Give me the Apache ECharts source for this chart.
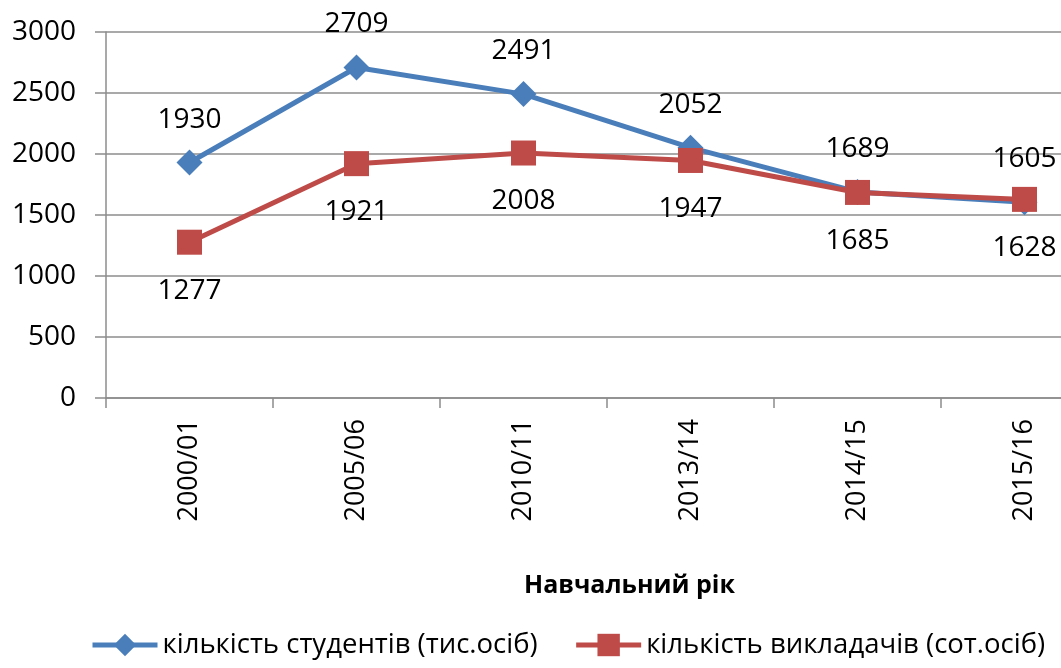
<!DOCTYPE html>
<html>
<head>
<meta charset="utf-8">
<script src="https://cdn.jsdelivr.net/npm/echarts@6/dist/echarts.min.js"></script>
<style>
  html, body { margin: 0; padding: 0; background: #fff; }
  #chart { width: 1061px; height: 668px; }
</style>
</head>
<body>
<div id="chart"></div>
<script>
const years = ["2000/01", "2005/06", "2010/11", "2013/14", "2014/15", "2015/16"];
const students = [1930, 2709, 2491, 2052, 1689, 1605];
const teachers = [1277, 1921, 2008, 1947, 1685, 1628];
const yTicks = { min: 0, max: 3000, step: 500 };

const font = "'Open Sans', 'Noto Sans', sans-serif";
const chart = echarts.init(document.getElementById("chart"));

chart.setOption({
  animation: false,
  title: {
    text: "Навчальний рік",
    left: 519,
    top: 568,
    textStyle: { fontFamily: font, fontSize: 25, fontWeight: "bold", color: "#000" }
  },
  legend: {
    bottom: 4,
    left: 85,
    itemWidth: 65,
    itemHeight: 28,
    itemGap: 36,
    lineStyle: { width: 5 },
    textStyle: { fontFamily: font, fontSize: 27.5, color: "#000" },
    data: ["кількість студентів (тис.осіб)", "кількість викладачів (сот.осіб)"]
  },
  grid: { left: 106, top: 32, width: 1002, height: 366, outerBoundsMode: "none", containLabel: false },
  xAxis: {
    type: "category",
    data: years,
    boundaryGap: true,
    axisLine: { lineStyle: { color: "#8c8c8c", width: 1.5 } },
    axisTick: { show: true, interval: 0, length: 10, lineStyle: { color: "#8c8c8c", width: 1.5 } },
    axisLabel: { rotate: 90, margin: 21, fontFamily: font, fontSize: 27, color: "#000", interval: 0 }
  },
  yAxis: {
    type: "value",
    min: yTicks.min,
    max: yTicks.max,
    interval: yTicks.step,
    axisLine: { show: true, lineStyle: { color: "#8c8c8c", width: 1.5 } },
    axisTick: { show: true, length: 11, lineStyle: { color: "#8c8c8c", width: 1.5 } },
    axisLabel: { margin: 30, fontFamily: font, fontSize: 28, color: "#000", formatter: (v) => String(v) },
    splitLine: { lineStyle: { color: "#8c8c8c", width: 1.5 } }
  },
  series: [
    {
      name: "кількість студентів (тис.осіб)",
      type: "line",
      data: students,
      symbol: "diamond",
      symbolSize: 26,
      itemStyle: { color: "#4a7ebb" },
      lineStyle: { color: "#4a7ebb", width: 5 },
      label: { show: true, position: "top", distance: 16, fontFamily: font, fontSize: 28, color: "#000" }
    },
    {
      name: "кількість викладачів (сот.осіб)",
      type: "line",
      data: teachers,
      symbol: "rect",
      symbolSize: 25,
      itemStyle: { color: "#be4b48" },
      lineStyle: { color: "#be4b48", width: 5 },
      label: { show: true, position: "bottom", distance: 22, fontFamily: font, fontSize: 28, color: "#000" }
    }
  ]
});
</script>
</body>
</html>
